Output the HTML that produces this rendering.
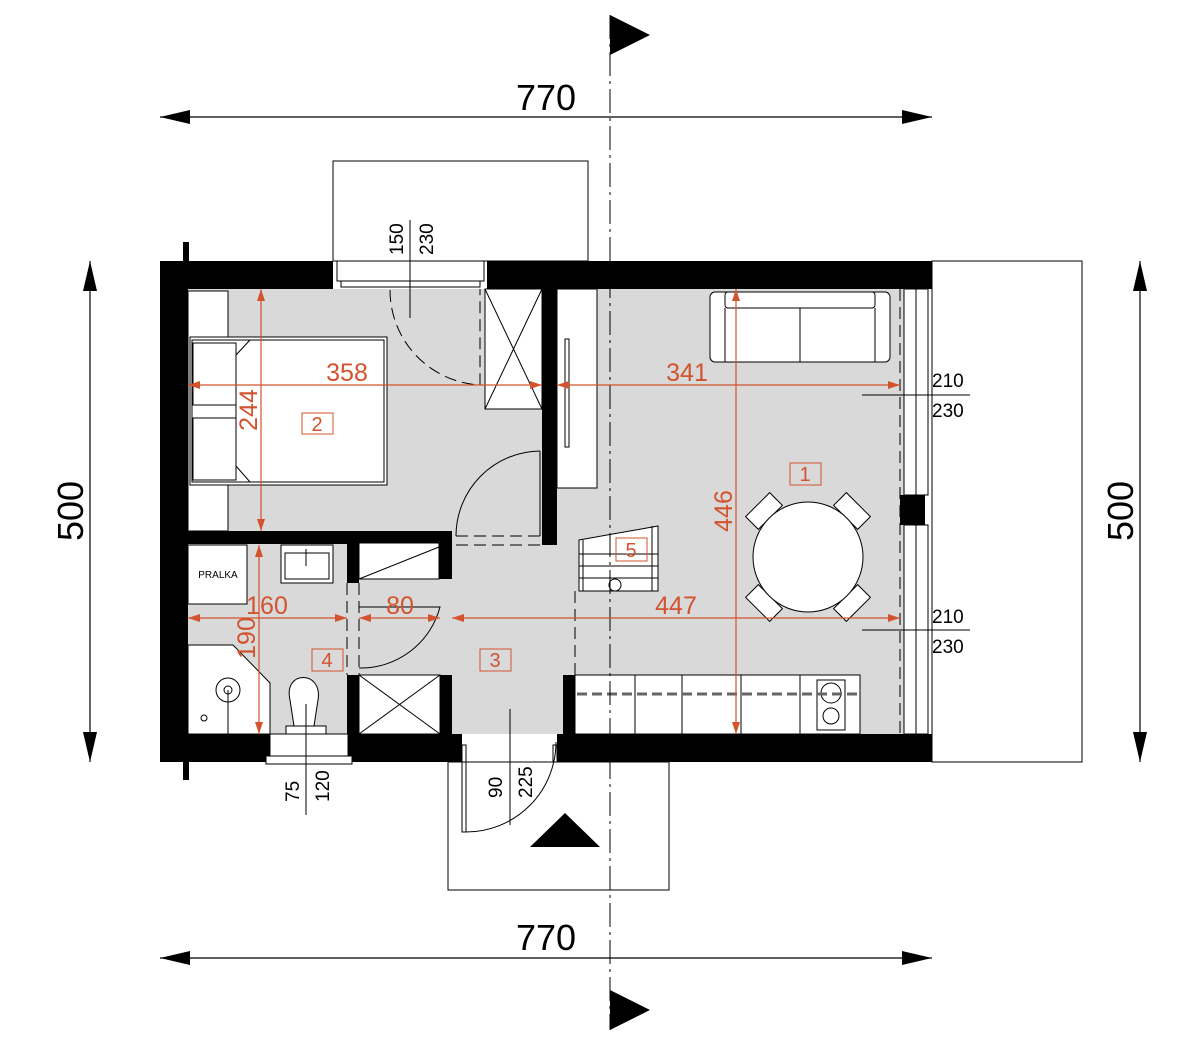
<!DOCTYPE html>
<html><head><meta charset="utf-8"><style>
html,body{margin:0;padding:0;background:#fff}
svg{display:block}
text{font-family:"Liberation Sans",sans-serif}
.o{fill:#d2532d}
</style></head><body>
<svg width="1192" height="1050" viewBox="0 0 1192 1050" xmlns="http://www.w3.org/2000/svg">
<defs>
<marker id="ab" markerWidth="30" markerHeight="14" refX="30" refY="7" orient="auto" markerUnits="userSpaceOnUse"><path d="M0,0 L30,7 L0,14z" fill="#000"/></marker>
<marker id="ao" markerWidth="12" markerHeight="8" refX="12" refY="4" orient="auto" markerUnits="userSpaceOnUse"><path d="M0,0 L12,4 L0,8z" fill="#d2532d"/></marker>
</defs>
<!-- terraces -->
<g fill="none" stroke="#000" stroke-width="1">
<rect x="333" y="161" width="255" height="100"/>
<rect x="932" y="261" width="150" height="501"/>
<rect x="448" y="762" width="221" height="128"/>
</g>
<!-- floor -->
<rect x="188" y="289" width="716" height="445" fill="#d9d9d9"/>
<!-- walls -->
<g fill="#000">
<rect x="160" y="261" width="173" height="28"/>
<rect x="487" y="261" width="445" height="28"/>
<rect x="160" y="261" width="28" height="501"/>
<rect x="160" y="734" width="110" height="28"/>
<rect x="348" y="734" width="114" height="28"/>
<rect x="557" y="734" width="375" height="28"/>
<rect x="900" y="495" width="25" height="30"/>
<rect x="188" y="531" width="264" height="13"/>
<rect x="542" y="289" width="15" height="256"/>
<rect x="347" y="543" width="12" height="40"/>
<rect x="347" y="675" width="12" height="59"/>
<rect x="439" y="543" width="13" height="36"/>
<rect x="440" y="675" width="12" height="59"/>
<rect x="563" y="675" width="12" height="59"/>
<rect x="183" y="242" width="6" height="19"/>
<rect x="183" y="762" width="6" height="18"/>
</g>
<!-- windows -->
<g fill="#fff" stroke="#000" stroke-width="1">
<rect x="337" y="261" width="147" height="20"/>
<rect x="341" y="281" width="139" height="6"/>
<rect x="270" y="734" width="78" height="28"/>
<rect x="266" y="756" width="86" height="8"/>
<rect x="904" y="289" width="12" height="206"/>
<rect x="904" y="525" width="12" height="209"/>
<rect x="916" y="289" width="12" height="206"/>
<rect x="916" y="525" width="12" height="209"/>
<rect x="462" y="745" width="4" height="17"/><rect x="553" y="745" width="4" height="17"/>
</g>
<g stroke="#000" stroke-width="1" fill="none">
<line x1="466" y1="762" x2="553" y2="762"/>
<rect x="462" y="762" width="4" height="70" fill="#fff"/>
<path d="M466,832 A90,90 0 0 0 556,742"/>
<!-- bedroom door -->
<path d="M540,451 A85,85 0 0 0 456,536"/>
<line x1="540" y1="451" x2="540" y2="536"/>
<!-- bath door -->
<path d="M359,607 L440,607 A82,82 0 0 1 359,668"/>
<!-- closets -->
<rect x="485" y="289" width="57" height="120" fill="#fff"/>
<path d="M485,289 L542,409 M542,289 L485,409"/>
<rect x="359" y="543" width="80" height="36" fill="#fff"/>
<path d="M359,579 L439,547"/>
<rect x="359" y="675" width="81" height="59" fill="#fff"/>
<path d="M359,675 L440,734 M440,675 L359,734"/>
<!-- bedroom furniture -->
<rect x="188" y="291" width="40" height="240" fill="#fff"/>
<rect x="190" y="337" width="197" height="148" fill="#fff"/>
<rect x="192" y="340" width="192" height="142"/>
<rect x="193" y="343" width="43" height="62" fill="#fff"/>
<rect x="193" y="418" width="43" height="62" fill="#fff"/>
<path d="M250,340 L236,355 L236,466 L250,482 L384,482 L384,340z" fill="#fff"/>
<!-- TV unit -->
<rect x="557" y="289" width="40" height="199" fill="#fff"/>
<rect x="565" y="339" width="4" height="108" fill="#fff"/>
<!-- sofa -->
<rect x="710" y="292" width="180" height="70" rx="5" fill="#fff"/>
<rect x="725" y="292" width="150" height="16" rx="3"/>
<line x1="725" y1="308" x2="725" y2="362"/><line x1="875" y1="308" x2="875" y2="362"/>
<line x1="800" y1="308" x2="800" y2="362"/>
<!-- table and chairs -->
<g fill="#fff">
<rect x="-17" y="-9" width="34" height="18" transform="translate(764,511) rotate(-45)"/>
<rect x="-17" y="-9" width="34" height="18" transform="translate(852,511) rotate(45)"/>
<rect x="-17" y="-9" width="34" height="18" transform="translate(764,603) rotate(45)"/>
<rect x="-17" y="-9" width="34" height="18" transform="translate(852,603) rotate(-45)"/>
<circle cx="808" cy="557" r="55"/>
</g>
<!-- stairs -->
<path d="M579,540 L658,526 L658,591 L579,591z" fill="#fff"/>
<path d="M579,554 L658,554 M579,566 L658,566 M579,578 L658,578 M652,526 L652,591 M583,540 L583,591"/>
<circle cx="615" cy="585" r="6"/>
<!-- kitchen -->
<rect x="575" y="675" width="285" height="59" fill="#fff"/>
<path d="M635,675 L635,734 M682,675 L682,734 M741,675 L741,734 M800,675 L800,734"/>
<rect x="817" y="680" width="28" height="50"/>
<circle cx="831" cy="693" r="10"/><circle cx="831" cy="716" r="8"/>
<line x1="577" y1="694" x2="860" y2="694" stroke="#666" stroke-width="3" stroke-dasharray="10,5"/>
<!-- bathroom -->
<rect x="188" y="545" width="59" height="59" fill="#fff"/>
<rect x="281" y="545" width="52" height="38" fill="#fff"/>
<rect x="285" y="553" width="44" height="26"/>
<line x1="306" y1="549" x2="306" y2="566"/>
<path d="M188,645 L233,645 L270,683 L270,734 L188,734z" fill="#fff"/>
<circle cx="228" cy="690" r="12"/><circle cx="228" cy="690" r="4"/>
<line x1="228" y1="690" x2="228" y2="734"/>
<circle cx="204" cy="718" r="3"/>
<path d="M290,700 C283,670 323,670 318,700 L314,726 L294,726z" fill="#fff"/>
<rect x="286" y="726" width="40" height="8" fill="#fff"/>
<line x1="306" y1="704" x2="306" y2="815"/>
<!-- leader lines -->
<line x1="410" y1="220" x2="410" y2="318"/>
<line x1="510" y1="709" x2="510" y2="825"/>
<line x1="862" y1="395" x2="970" y2="395"/>
<line x1="862" y1="630" x2="970" y2="630"/>
</g>
<!-- dashed -->
<g stroke="#000" stroke-width="1" fill="none" stroke-dasharray="12,6">
<path d="M390,290 A95,95 0 0 0 480,385 L480,289"/>
<path d="M456,536 L540,536 M456,545 L540,545"/>
<path d="M347,583 L347,675 M359,583 L359,675"/>
<path d="M575,591 L575,675"/>
<path d="M900,289 L900,734"/>
</g>
<!-- axis -->
<line x1="610" y1="15" x2="610" y2="1030" stroke="#000" stroke-width="1" stroke-dasharray="24,5,3,5"/>
<path d="M610,15 L650,35 L610,55z M610,990 L650,1010 L610,1030z" fill="#000"/>
<path d="M530,847 L600,847 L565,813z" fill="#000"/>
<!-- outer dims -->
<g stroke="#000" stroke-width="1.2">
<line x1="190" y1="117" x2="160" y2="117" marker-end="url(#ab)"/><line x1="900" y1="117" x2="932" y2="117" marker-end="url(#ab)"/>
<line x1="190" y1="117" x2="900" y2="117"/>
<line x1="190" y1="958" x2="160" y2="958" marker-end="url(#ab)"/><line x1="900" y1="958" x2="932" y2="958" marker-end="url(#ab)"/>
<line x1="190" y1="958" x2="900" y2="958"/>
<line x1="90" y1="290" x2="90" y2="261" marker-end="url(#ab)"/><line x1="90" y1="732" x2="90" y2="762" marker-end="url(#ab)"/>
<line x1="90" y1="290" x2="90" y2="732"/>
<line x1="1140" y1="290" x2="1140" y2="261" marker-end="url(#ab)"/><line x1="1140" y1="732" x2="1140" y2="762" marker-end="url(#ab)"/>
<line x1="1140" y1="290" x2="1140" y2="732"/>
</g>
<g font-size="36" fill="#000">
<text x="546" y="110" text-anchor="middle">770</text>
<text x="546" y="950" text-anchor="middle">770</text>
<text transform="translate(83,511) rotate(-90)" text-anchor="middle">500</text>
<text transform="translate(1133,511) rotate(-90)" text-anchor="middle">500</text>
</g>
<!-- orange dims -->
<g stroke="#d2532d" stroke-width="1.2">
<line x1="365" y1="385" x2="188" y2="385" marker-end="url(#ao)"/><line x1="365" y1="385" x2="542" y2="385" marker-end="url(#ao)"/>
<line x1="700" y1="385" x2="557" y2="385" marker-end="url(#ao)"/><line x1="700" y1="385" x2="900" y2="385" marker-end="url(#ao)"/>
<line x1="261" y1="400" x2="261" y2="289" marker-end="url(#ao)"/><line x1="261" y1="400" x2="261" y2="531" marker-end="url(#ao)"/>
<line x1="736" y1="500" x2="736" y2="289" marker-end="url(#ao)"/><line x1="736" y1="500" x2="736" y2="734" marker-end="url(#ao)"/>
<line x1="260" y1="618" x2="188" y2="618" marker-end="url(#ao)"/><line x1="260" y1="618" x2="347" y2="618" marker-end="url(#ao)"/>
<line x1="400" y1="618" x2="359" y2="618" marker-end="url(#ao)"/><line x1="400" y1="618" x2="440" y2="618" marker-end="url(#ao)"/>
<line x1="700" y1="618" x2="452" y2="618" marker-end="url(#ao)"/><line x1="700" y1="618" x2="900" y2="618" marker-end="url(#ao)"/>
<line x1="259" y1="640" x2="259" y2="545" marker-end="url(#ao)"/><line x1="259" y1="640" x2="259" y2="734" marker-end="url(#ao)"/>
</g>
<g class="o" font-size="25">
<text x="347" y="381" text-anchor="middle">358</text>
<text x="687" y="381" text-anchor="middle">341</text>
<text x="267" y="614" text-anchor="middle">160</text>
<text x="400" y="614" text-anchor="middle">80</text>
<text x="676" y="614" text-anchor="middle">447</text>
<text transform="translate(257,410) rotate(-90)" text-anchor="middle">244</text>
<text transform="translate(732,511) rotate(-90)" text-anchor="middle">446</text>
<text transform="translate(255,638) rotate(-90)" text-anchor="middle">190</text>
</g>
<g fill="none" stroke="#d2532d" stroke-width="1">
<rect x="302" y="413" width="31" height="21"/><rect x="790" y="463" width="31" height="22"/>
<rect x="616" y="538" width="31" height="23"/><rect x="480" y="649" width="31" height="22"/>
<rect x="312" y="649" width="31" height="22"/>
</g>
<g class="o" font-size="20" text-anchor="middle">
<text x="317" y="431">2</text><text x="805" y="481">1</text><text x="631" y="557">5</text>
<text x="495" y="667">3</text><text x="327" y="667">4</text>
</g>
<!-- black small labels -->
<g font-size="19" fill="#000">
<text x="932" y="387">210</text><text x="932" y="417">230</text>
<text x="932" y="623">210</text><text x="932" y="653">230</text>
<text transform="translate(403,255) rotate(-90)">150</text>
<text transform="translate(433,255) rotate(-90)">230</text>
<text transform="translate(299,802) rotate(-90)">75</text>
<text transform="translate(329,802) rotate(-90)">120</text>
<text transform="translate(502,798) rotate(-90)">90</text>
<text transform="translate(532,798) rotate(-90)">225</text>
</g>
<text x="218" y="578" font-size="10" text-anchor="middle" fill="#000">PRALKA</text>
</svg>
</body></html>
